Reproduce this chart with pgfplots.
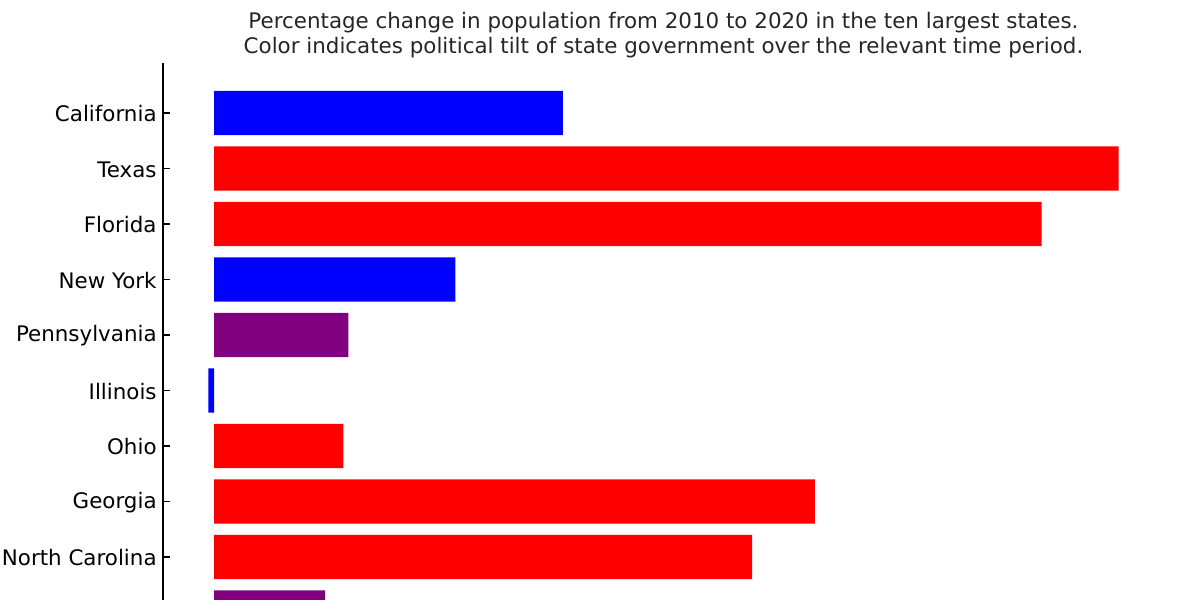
\documentclass[border=0pt]{standalone}
\usepackage{fontspec}
\setmainfont{DejaVu Sans}
\usepackage{pgfplots}
\pgfplotsset{compat=1.18}

% 1 px of the 1200x600 reference = 0.5pt
\definecolor{dblue}{HTML}{0000FF}
\definecolor{dred}{HTML}{FF0000}
\definecolor{dpurple}{HTML}{800080}
\definecolor{titlegray}{HTML}{262626}

\begin{document}
\begin{tikzpicture}
\useasboundingbox (0,0) rectangle (600pt,-300pt);
\begin{axis}[
    at={(81.5pt,-31.5pt)},
    anchor=north west,
    scale only axis,
    width=500.5pt,
    height=268.5pt,
    xbar,
    bar width=0.8,
    bar shift=0pt,
    xmin=-0.9, xmax=16.7,
    ymin=-0.9, ymax=8.775,
    y dir=reverse,
    axis x line=none,
    axis y line*=left,
    axis line style={line width=0.8pt, black},
    ytick={0,1,2,3,4,5,6,7,8,9},
    yticklabels={California,Texas,Florida,New York,Pennsylvania,Illinois,Ohio,Georgia,North Carolina,Michigan},
    tick align=inside,
    major tick length=3.5pt,
    tick style={line width=0.8pt, black},
    yticklabel style={font=\fontsize{10.7}{12.8}\selectfont, anchor=east, inner sep=0pt, xshift=-3pt, yshift=-0.5pt},
    title={Percentage change in population from 2010 to 2020 in the ten largest states.\\Color indicates political tilt of state government over the relevant time period.},
    title style={font=\fontsize{10.7}{12.5}\selectfont, text=titlegray, align=center, at={(0.5,1)}, anchor=south, inner sep=0pt, yshift=-3.5pt},
    clip=true,
]
\addplot[draw=none, fill=dblue] coordinates {(6.13,0) (4.24,3) (-0.1,5)};
\addplot[draw=none, fill=dred] coordinates {(15.9,1) (14.55,2) (2.27,6) (10.56,7) (9.46,8)};
\addplot[draw=none, fill=dpurple] coordinates {(2.36,4) (1.95,9)};
\end{axis}
\end{tikzpicture}
\end{document}
